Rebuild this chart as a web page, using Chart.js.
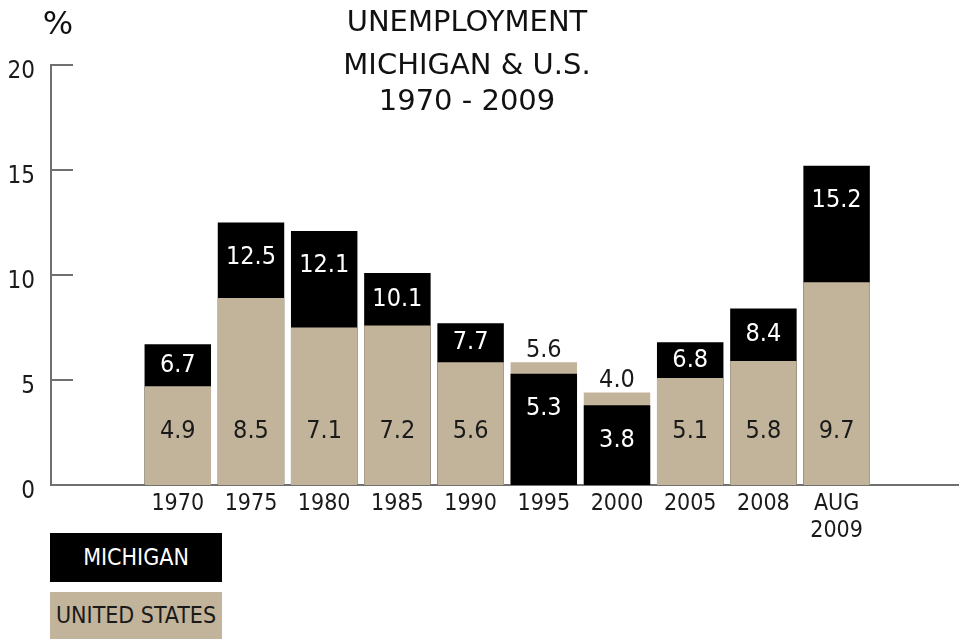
<!DOCTYPE html>
<html>
<head>
<meta charset="utf-8">
<script src="https://cdn.jsdelivr.net/npm/chart.js@4.4.0/dist/chart.umd.min.js"></script>
<style>
  html, body { margin: 0; padding: 0; background: #fff; }
  #wrap { position: relative; width: 959px; height: 639px; overflow: hidden; }
  #chart { position: absolute; left: 0; top: 0; }
  .txt { position: absolute; white-space: nowrap; color: #111; transform: translateX(-50%); }
  .title { font: 29px "DejaVu Sans", sans-serif; line-height: 40px; height: 40px; left: 467px; }
  .pct { font: 32px "DejaVu Sans", sans-serif; line-height: 40px; left: 58px; top: 3px; }
  .leg { position: absolute; left: 50px; width: 172px; text-align: center;
         font: 23px "DejaVu Sans Condensed", "DejaVu Sans", sans-serif; }
  #legMi { top: 533px; height: 49px; line-height: 49px; background: #000; color: #fff; }
  #legUs { top: 592px; height: 47px; line-height: 47px; background: #c2b49a; color: #1a1a1a; }
</style>
</head>
<body>
<div id="wrap">
  <canvas id="chart" width="959" height="639"></canvas>
  <div class="txt pct">%</div>
  <div class="txt title" style="top:1px">UNEMPLOYMENT</div>
  <div class="txt title" style="top:44px">MICHIGAN &amp; U.S.</div>
  <div class="txt title" style="top:80px">1970 - 2009</div>
  <div class="leg" id="legMi">MICHIGAN</div>
  <div class="leg" id="legUs">UNITED STATES</div>
</div>
<script>
const years = ['1970', '1975', '1980', '1985', '1990', '1995', '2000', '2005', '2008', ['AUG', '2009']];
const michigan = [6.7, 12.5, 12.1, 10.1, 7.7, 5.3, 3.8, 6.8, 8.4, 15.2];
// US bars as drawn in the picture (heights), and the numbers printed on them
const usBars = [4.7, 8.9, 7.5, 7.6, 5.85, 5.85, 4.4, 5.1, 5.9, 9.65];
const usLabels = ['4.9', '8.5', '7.1', '7.2', '5.6', '5.6', '4.0', '5.1', '5.8', '9.7'];
const yTicks = [0, 5, 10, 15, 20];

const BLACK = '#000000';
const TAN = '#c2b49a';
const AXIS = '#707070';
const INK = '#1a1a1a';
const FONT = '"DejaVu Sans Condensed", "DejaVu Sans", sans-serif';

// the shorter bar of each pair sits in front of the taller one
const front = michigan.map((m, i) => ({ x: i, y: Math.min(m, usBars[i]) }));
const back = michigan.map((m, i) => ({ x: i, y: Math.max(m, usBars[i]) }));
const frontColors = michigan.map((m, i) => (m <= usBars[i] ? BLACK : TAN));
const backColors = michigan.map((m, i) => (m > usBars[i] ? BLACK : TAN));

const labelPlugin = {
  id: 'labels',
  afterDraw(chart) {
    const { ctx, chartArea: area } = chart;
    const xs = chart.scales.x, ys = chart.scales.y;
    ctx.save();
    // y ticks point into the plot
    ctx.strokeStyle = AXIS;
    ctx.lineWidth = 2;
    yTicks.forEach((v) => {
      const py = Math.round(ys.getPixelForValue(v));
      ctx.beginPath();
      ctx.moveTo(area.left, py);
      ctx.lineTo(area.left + 22, py);
      ctx.stroke();
    });
    ctx.font = '25px ' + FONT;
    ctx.textAlign = 'center';
    ctx.textBaseline = 'middle';
    const zero = ys.getPixelForValue(0);
    michigan.forEach((m, i) => {
      const cx = xs.getPixelForValue(i);
      const miTop = ys.getPixelForValue(m);
      const usTop = ys.getPixelForValue(usBars[i]);
      const miText = m.toFixed(1);
      if (m > usBars[i]) {
        ctx.fillStyle = '#fff';
        ctx.fillText(miText, cx, Math.min((miTop + usTop) / 2, miTop + 35));
        ctx.fillStyle = INK;
        ctx.fillText(usLabels[i], cx, zero - 54);
      } else {
        ctx.fillStyle = INK;
        ctx.fillText(usLabels[i], cx, usTop - 12);
        ctx.fillStyle = '#fff';
        ctx.fillText(miText, cx, Math.min((miTop + zero) / 2, miTop + 35));
      }
    });
    ctx.restore();
  }
};

new Chart(document.getElementById('chart'), {
  type: 'bar',
  data: {
    datasets: [
      { data: front, backgroundColor: frontColors, grouped: false, barPercentage: 0.908, categoryPercentage: 1 },
      { data: back, backgroundColor: backColors, grouped: false, barPercentage: 0.908, categoryPercentage: 1 }
    ]
  },
  options: {
    responsive: false,
    animation: false,
    layout: { padding: { top: 65, left: 0, right: 0, bottom: 0 } },
    plugins: { legend: { display: false }, tooltip: { enabled: false } },
    scales: {
      x: {
        type: 'linear',
        offset: false,
        min: -1.732,
        max: 10.672,
        z: 1,
        grid: { display: false, drawTicks: false },
        border: { display: true, color: AXIS, width: 2 },
        afterBuildTicks: (s) => { s.ticks = years.map((_, i) => ({ value: i })); },
        afterFit: (s) => { s.height = 154; },
        ticks: {
          autoSkip: false, maxRotation: 0, minRotation: 0, padding: 6,
          color: INK, font: { family: FONT, size: 23, lineHeight: 1.17 },
          callback: (v) => years[v]
        }
      },
      y: {
        min: 0,
        max: 20,
        z: 1,
        grid: { display: false, drawTicks: false },
        border: { display: true, color: AXIS, width: 2 },
        afterBuildTicks: (s) => { s.ticks = yTicks.map((v) => ({ value: v })); },
        afterFit: (s) => { s.width = 51; },
        ticks: { padding: 16, labelOffset: 7, color: INK, font: { family: FONT, size: 24 } }
      }
    }
  },
  plugins: [labelPlugin]
});
</script>
</body>
</html>
